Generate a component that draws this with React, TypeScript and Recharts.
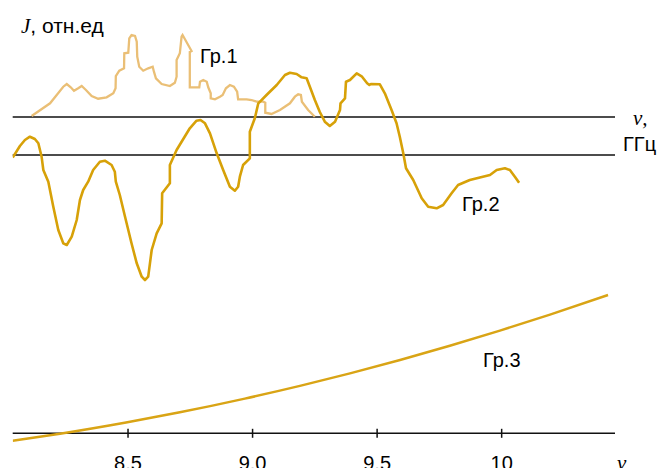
import React from "react";
import { LineChart, Line, XAxis, YAxis, ReferenceLine } from "recharts";

// Frequency ν, GHz
const xTicks = [8.5, 9.0, 9.5, 10];
const xTickLabels = ["8.5", "9.0", "9.5", "10"];

// Baselines of the upper records (relative units)
const baselines = [3.163, 2.783];

// Гр.1
const gr1Freq = [8.113, 8.187, 8.240, 8.254, 8.270, 8.283, 8.300, 8.314, 8.331, 8.354, 8.380, 8.414, 8.441, 8.450, 8.451, 8.465, 8.484, 8.485, 8.501, 8.505, 8.514, 8.528, 8.535, 8.537, 8.545, 8.561, 8.581, 8.599, 8.604, 8.612, 8.635, 8.668, 8.688, 8.695, 8.695, 8.708, 8.715, 8.719, 8.755, 8.748, 8.748, 8.786, 8.789, 8.802, 8.816, 8.822, 8.832, 8.832, 8.849, 8.869, 8.880, 8.893, 8.909, 8.925, 8.938, 8.942, 8.976, 8.996, 9.016, 9.043, 9.051, 9.051, 9.076, 9.110, 9.150, 9.170, 9.183, 9.194, 9.198, 9.223, 9.250];
const gr1J = [3.173, 3.30, 3.466, 3.493, 3.46, 3.426, 3.45, 3.473, 3.433, 3.373, 3.346, 3.36, 3.40, 3.45, 3.573, 3.626, 3.65, 3.80, 3.806, 3.95, 3.983, 3.973, 3.916, 3.766, 3.666, 3.626, 3.65, 3.666, 3.616, 3.55, 3.493, 3.473, 3.506, 3.566, 3.733, 3.80, 3.966, 3.983, 3.823, 3.813, 3.46, 3.46, 3.516, 3.533, 3.516, 3.46, 3.40, 3.35, 3.34, 3.366, 3.383, 3.45, 3.483, 3.466, 3.416, 3.34, 3.34, 3.333, 3.316, 3.316, 3.306, 3.206, 3.193, 3.233, 3.30, 3.366, 3.39, 3.383, 3.316, 3.233, 3.166];

// Гр.2
const gr2Freq = [8.037, 8.066, 8.086, 8.106, 8.126, 8.140, 8.153, 8.160, 8.180, 8.200, 8.220, 8.240, 8.254, 8.274, 8.294, 8.307, 8.320, 8.340, 8.360, 8.387, 8.407, 8.434, 8.447, 8.451, 8.467, 8.488, 8.514, 8.535, 8.555, 8.568, 8.581, 8.588, 8.595, 8.615, 8.635, 8.637, 8.668, 8.668, 8.695, 8.748, 8.775, 8.791, 8.809, 8.829, 8.856, 8.882, 8.909, 8.929, 8.942, 8.949, 8.962, 8.989, 8.989, 9.009, 9.023, 9.056, 9.097, 9.130, 9.150, 9.177, 9.197, 9.217, 9.230, 9.250, 9.270, 9.290, 9.310, 9.331, 9.351, 9.353, 9.371, 9.375, 9.391, 9.418, 9.438, 9.460, 9.469, 9.475, 9.511, 9.531, 9.558, 9.578, 9.591, 9.605, 9.616, 9.645, 9.679, 9.705, 9.739, 9.765, 9.799, 9.825, 9.872, 9.953, 9.980, 10.013, 10.033, 10.053, 10.070];
const gr2J = [2.758, 2.873, 2.933, 2.966, 2.943, 2.90, 2.766, 2.633, 2.516, 2.266, 2.033, 1.90, 1.883, 1.966, 2.133, 2.333, 2.433, 2.516, 2.633, 2.716, 2.726, 2.683, 2.616, 2.516, 2.383, 2.166, 1.90, 1.70, 1.566, 1.533, 1.566, 1.70, 1.833, 2.00, 2.10, 2.40, 2.50, 2.683, 2.833, 3.05, 3.126, 3.133, 3.10, 3.00, 2.80, 2.633, 2.466, 2.426, 2.466, 2.566, 2.683, 2.75, 3.016, 3.15, 3.30, 3.383, 3.483, 3.583, 3.606, 3.593, 3.56, 3.55, 3.466, 3.333, 3.213, 3.116, 3.073, 3.116, 3.233, 3.30, 3.35, 3.516, 3.533, 3.60, 3.57, 3.50, 3.483, 3.493, 3.49, 3.40, 3.233, 3.10, 2.966, 2.80, 2.65, 2.533, 2.35, 2.266, 2.25, 2.283, 2.40, 2.483, 2.533, 2.583, 2.633, 2.65, 2.633, 2.566, 2.506];

// Гр.3
const gr3Freq = [8.037, 8.227, 8.492, 8.708, 8.969, 9.190, 9.391, 9.592, 9.792, 9.993, 10.194, 10.427];
const gr3J = [-0.074, -0.004, 0.108, 0.210, 0.347, 0.474, 0.599, 0.733, 0.875, 1.027, 1.187, 1.383];

const zip = (fs: number[], js: number[]) => fs.map((f, i) => ({ f, j: js[i] }));
const gr1 = zip(gr1Freq, gr1J);
const gr2 = zip(gr2Freq, gr2J);
const gr3 = zip(gr3Freq, gr3J);

const SANS = "'Liberation Sans', Arial, sans-serif";
const SERIF = "'Liberation Serif', 'Times New Roman', serif";

const C1 = "#EABF76";
const C2 = "#D7A108";
const C3 = "#D9A415";

export default function App() {
  return (
    <div style={{ position: "absolute", left: 0, top: 0, width: 658, height: 468, background: "#fff", overflow: "hidden" }}>
      <LineChart width={658} height={468} margin={{ top: 12, right: 43, left: 12.7, bottom: 0 }}>
        <XAxis
          type="number"
          dataKey="f"
          domain={[8.037, 10.455]}
          allowDataOverflow
          ticks={xTicks}
          interval={0}
          tickFormatter={(v: number) => xTickLabels[xTicks.indexOf(v)] ?? String(v)}
          axisLine={false}
          tickLine={false}
          tickSize={0}
          tickMargin={3}
          height={15}
          tick={{ fontSize: 20, fill: "#000", fontFamily: SANS }}
        />
        <YAxis
          type="number"
          domain={[-0.197, 4.213]}
          allowDataOverflow
          width={0}
          tick={false}
          tickLine={false}
          axisLine={{ stroke: "#111", strokeWidth: 1.5 }}
        />
        {baselines.map((b) => (
          <ReferenceLine key={b} y={b} stroke="#111" strokeWidth={1.5} />
        ))}
        <ReferenceLine y={0} stroke="#111" strokeWidth={1.5} />
        {xTicks.map((t) => (
          <ReferenceLine
            key={"t" + t}
            segment={[{ x: t, y: -0.045 }, { x: t, y: 0.045 }]}
            stroke="#111"
            strokeWidth={1.5}
          />
        ))}
        <Line data={gr1} dataKey="j" type="linear" stroke={C1} strokeWidth={2.3} dot={false} isAnimationActive={false} />
        <Line data={gr3} dataKey="j" type="monotone" stroke={C3} strokeWidth={2.5} dot={false} isAnimationActive={false} />
        <Line data={gr2} dataKey="j" type="linear" stroke={C2} strokeWidth={2.6} dot={false} isAnimationActive={false} strokeLinejoin="round" />
      </LineChart>
      <svg width={658} height={468} style={{ position: "absolute", left: 0, top: 0, pointerEvents: "none" }}>
        <text x={21} y={33} fill="#000" style={{ fontSize: 21 }}>
          <tspan fontFamily={SERIF} fontStyle="italic" style={{ fontSize: 21 }}>J</tspan>
          <tspan fontFamily={SANS} style={{ fontSize: 21 }}>, отн.ед</tspan>
        </text>
        <text x={200} y={63} fontSize={20} fontFamily={SANS} fill="#000">Гр.1</text>
        <text x={462} y={211} fontSize={20} fontFamily={SANS} fill="#000">Гр.2</text>
        <text x={483} y={367} fontSize={20} fontFamily={SANS} fill="#000">Гр.3</text>
        <text x={633} y={125} fontSize={21} fontFamily={SERIF} fontStyle="italic" fill="#000">ν,</text>
        <text x={623} y={151} fontSize={20} fontFamily={SANS} fill="#000">ГГц</text>
        <text x={617} y={470} fontSize={21} fontFamily={SERIF} fontStyle="italic" fill="#000">ν</text>
      </svg>
    </div>
  );
}
